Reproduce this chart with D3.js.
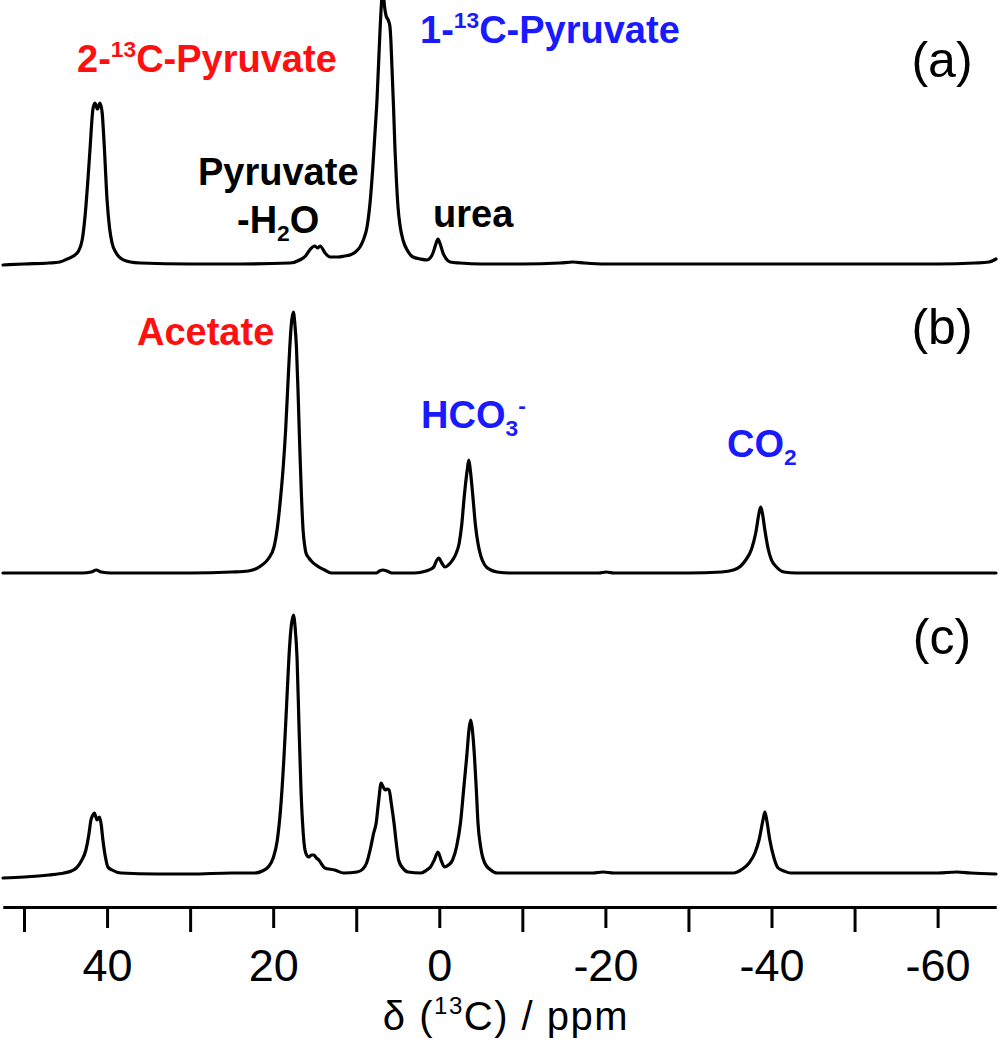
<!DOCTYPE html>
<html><head><meta charset="utf-8">
<script src="https://cdn.jsdelivr.net/npm/d3@7"></script>
<style>
html,body{margin:0;padding:0;background:#fff;}
svg{display:block;font-family:"Liberation Sans",Arial,Helvetica,sans-serif;}
</style></head><body>
<svg id="chart" width="999" height="1050"></svg>
<script>
// ---- data: [ppm, intensity (a.u.)] ----
const spectrumA = [[52.53,-1],[50,0],[47,1],[45.7,2],[44.8,5],[43.6,11],[43.0,24],[42.66,47],[42.3,85],[42.06,114],[41.7,155],[41.46,161],[41.16,155],[40.86,161],[40.6,152],[40.35,120],[40.0,64],[39.7,36],[39.4,21],[38.9,11],[38.4,6],[37.2,2],[36,1],[30,0],[24,0],[18,1],[16.8,4],[16.1,8],[15.6,14],[15.0,18],[14.65,16],[14.35,18],[13.75,11],[13.15,7],[12.2,7],[11.4,8],[10.75,9],[10.1,12],[9.55,17],[9.1,25],[8.7,37],[8.35,60],[8.0,97],[7.75,130],[7.5,164],[7.15,231],[6.95,262],[6.8,275],[6.6,258],[6.4,248],[6.15,244],[5.95,238],[5.82,222],[5.7,197],[5.5,155],[5.33,114],[5.15,82],[4.97,57],[4.7,37],[4.37,24],[3.8,13],[3.17,7],[2.3,5],[1.5,4],[1.1,6],[0.76,11],[0.45,19],[0.16,25],[-0.15,19],[-0.45,11],[-0.85,5],[-1.3,2],[-2.5,1],[-5,0],[-10,0],[-14.5,1],[-16.1,2],[-17.5,1],[-20,0],[-30,0],[-40,0],[-50,0],[-60,0],[-64.5,1],[-66.2,2],[-67.03,5]];
const spectrumB = [[52.53,0],[46,0],[43,0],[41.9,1],[41.3,3],[40.7,1],[39.5,0],[30,0],[25,1],[23,2],[21.5,7],[20.6,14],[19.9,26],[19.5,45],[19.1,76],[18.8,105],[18.5,143],[18.25,185],[18.0,226],[17.8,250],[17.57,261],[17.4,250],[17.2,226],[17.0,180],[16.8,126],[16.6,78],[16.4,43],[16.2,27],[16.05,20],[15.7,15],[15.3,11],[14.5,6],[13.8,3],[13.0,0],[10,0],[7.6,0],[7.2,2],[6.8,3],[6.3,2],[5.7,0],[3.0,0],[1.6,2],[1.0,4],[0.67,6],[0.35,12],[0.06,15],[-0.3,10],[-0.69,6],[-1.1,8],[-1.6,13],[-2.0,19],[-2.4,30],[-2.7,48],[-3.0,76],[-3.38,104],[-3.55,113],[-3.72,104],[-4.05,76],[-4.35,48],[-4.65,30],[-5.0,17],[-5.47,8],[-6.2,3],[-6.95,1],[-8.5,0],[-15,0],[-19.2,0],[-20.1,1],[-21,0],[-30,0],[-34,1],[-35.4,3],[-36.3,7],[-36.9,13],[-37.6,24],[-38.1,40],[-38.5,60],[-38.7,66],[-38.9,60],[-39.2,43],[-39.6,24],[-40.0,13],[-40.6,6],[-41.5,1],[-43,0],[-46.9,0],[-55,0],[-62,0],[-67.03,0]];
const spectrumC = [[52.53,-5],[50,-4],[47,-2],[45.2,0],[44.3,2],[43.7,5],[43.1,12],[42.55,23],[42.2,38],[41.94,53],[41.7,58],[41.53,60],[41.35,56],[41.2,53],[41.05,55],[40.9,56],[40.7,48],[40.5,33],[40.2,16],[39.9,6],[39.4,3],[38.3,0],[34,-1],[29.9,-1],[25,0],[22.2,0],[21.3,2],[20.6,6],[20.0,15],[19.5,33],[19.1,65],[18.7,116],[18.4,165],[18.1,216],[17.85,245],[17.57,258],[17.35,245],[17.13,216],[16.9,150],[16.65,83],[16.4,42],[16.17,23],[15.9,17],[15.7,16],[15.4,18],[15.1,18],[14.8,15],[14.5,13],[14.1,8],[13.8,5],[12.6,3],[11.5,0],[9.9,1],[9.2,4],[8.75,10],[8.3,24],[7.9,40],[7.6,50],[7.3,72],[7.0,90],[6.75,86],[6.5,83],[6.3,84],[6.05,83],[5.75,68],[5.45,50],[5.15,28],[4.9,13],[4.4,5],[3.77,1],[2.2,0],[1.5,3],[1.06,6],[0.6,13],[0.16,21],[-0.25,12],[-0.63,6],[-1.1,8],[-1.6,13],[-2.1,27],[-2.55,50],[-2.95,85],[-3.3,116],[-3.6,145],[-3.78,153],[-3.96,145],[-4.24,116],[-4.45,85],[-4.66,50],[-5.0,25],[-5.47,10],[-6.2,3],[-6.95,0],[-12,0],[-18.5,0],[-19.7,1],[-21,0],[-30,0],[-35.4,0],[-36.5,4],[-37.3,10],[-38.0,20],[-38.5,33],[-39.0,54],[-39.2,61],[-39.4,54],[-39.8,33],[-40.3,15],[-40.8,5],[-41.5,2],[-42.3,0],[-50,0],[-60,0],[-62.3,1],[-64,0],[-67.03,-1]];
const panelNames = ["(a)", "(b)", "(c)"];
const majorTicks = [40, 20, 0, -20, -40, -60];
const minorTicks = [50, 30, 10, -10, -30, -50];
const ppmDomain = [52.53, -67.03];
// label texts: [text, kind] kind: "" normal, "sup", "sub"
const labelPyr2 = [["2-",""],["13","sup"],["C-Pyruvate",""]];
const labelPyr1 = [["1-",""],["13","sup"],["C-Pyruvate",""]];
const labelHyd1 = [["Pyruvate",""]];
const labelHyd2 = [["-H",""],["2","sub"],["O",""]];
const labelUrea = [["urea",""]];
const labelAcetate = [["Acetate",""]];
const labelBicarb = [["HCO",""],["3","sub"],["-","sup"]];
const labelCO2 = [["CO",""],["2","sub"]];
const axisTitle = [["δ (",""],["13","sup"],["C) / ppm",""]];

// ---- drawing ----
const svg = d3.select("#chart");
const x = d3.scaleLinear().domain(ppmDomain).range([3, 996]);
const baselines = [264, 573, 873];
const spectra = [spectrumA, spectrumB, spectrumC];

spectra.forEach((s, i) => {
  const y = d3.scaleLinear().domain([0, 100]).range([baselines[i], baselines[i] - 100]);
  const line = d3.line().x(d => x(d[0])).y(d => y(d[1])).curve(d3.curveMonotoneX);
  svg.append("path").datum(s).attr("d", line)
    .attr("fill", "none").attr("stroke", "#000").attr("stroke-width", 3.2)
    .attr("stroke-linejoin", "round").attr("stroke-linecap", "round");
});

// axis
const axisY = 907;
const gMinor = svg.append("g").attr("transform", `translate(0,${axisY})`)
  .call(d3.axisBottom(x).tickValues(minorTicks).tickSize(25).tickSizeOuter(0).tickFormat(""));
const gMajor = svg.append("g").attr("transform", `translate(0,${axisY})`)
  .call(d3.axisBottom(x).tickValues(majorTicks).tickSize(21).tickSizeOuter(0).tickFormat(d3.format("d")));
[gMinor, gMajor].forEach(g => {
  g.select(".domain").attr("stroke", "#000").attr("stroke-width", 3);
  g.selectAll(".tick line").attr("stroke", "#000").attr("stroke-width", 3);
});
gMajor.selectAll(".tick text")
  .attr("y", 74).attr("dy", 0)
  .attr("font-size", 45).attr("fill", "#000")
  .attr("font-family", '"Liberation Sans",Arial,sans-serif')
  .text(d => d < 0 ? "-" + Math.abs(d) : d);

function addLabel(parts, px, py, color, size, weight, anchor, spacing) {
  const t = svg.append("text").attr("x", px).attr("y", py)
    .attr("fill", color).attr("font-size", size).attr("font-weight", weight)
    .attr("text-anchor", anchor || "start");
  if (spacing) t.attr("letter-spacing", spacing);
  let shift = 0;
  parts.forEach(([txt, kind]) => {
    let target = 0, fs = size;
    if (kind === "sup") { target = -0.4 * size; fs = 0.6 * size; }
    else if (kind === "sub") { target = 0.22 * size; fs = 0.6 * size; }
    t.append("tspan").attr("dy", target - shift).attr("font-size", fs).text(txt);
    shift = target;
  });
  return t;
}

const red = "#ff1010", blue = "#1a1aff";
addLabel(labelPyr2, 77, 72, red, 38, "bold");
addLabel(labelPyr1, 420, 43, blue, 38, "bold");
addLabel(labelHyd1, 198, 185, "#000", 38, "bold");
addLabel(labelHyd2, 237, 233, "#000", 38, "bold");
addLabel(labelUrea, 433, 227, "#000", 38, "bold");
addLabel(labelAcetate, 137, 345, red, 38, "bold");
addLabel(labelBicarb, 421, 428, blue, 38, "bold");
addLabel(labelCO2, 727, 457, blue, 38, "bold");

const panelY = [77, 344, 654];
panelNames.forEach((n, i) => {
  svg.append("text").attr("x", 942).attr("y", panelY[i]).attr("text-anchor", "middle")
    .attr("font-size", 50).attr("fill", "#000").text(n);
});

addLabel(axisTitle, 506, 1030, "#000", 40, "normal", "middle", 1.5);
</script>
</body></html>
